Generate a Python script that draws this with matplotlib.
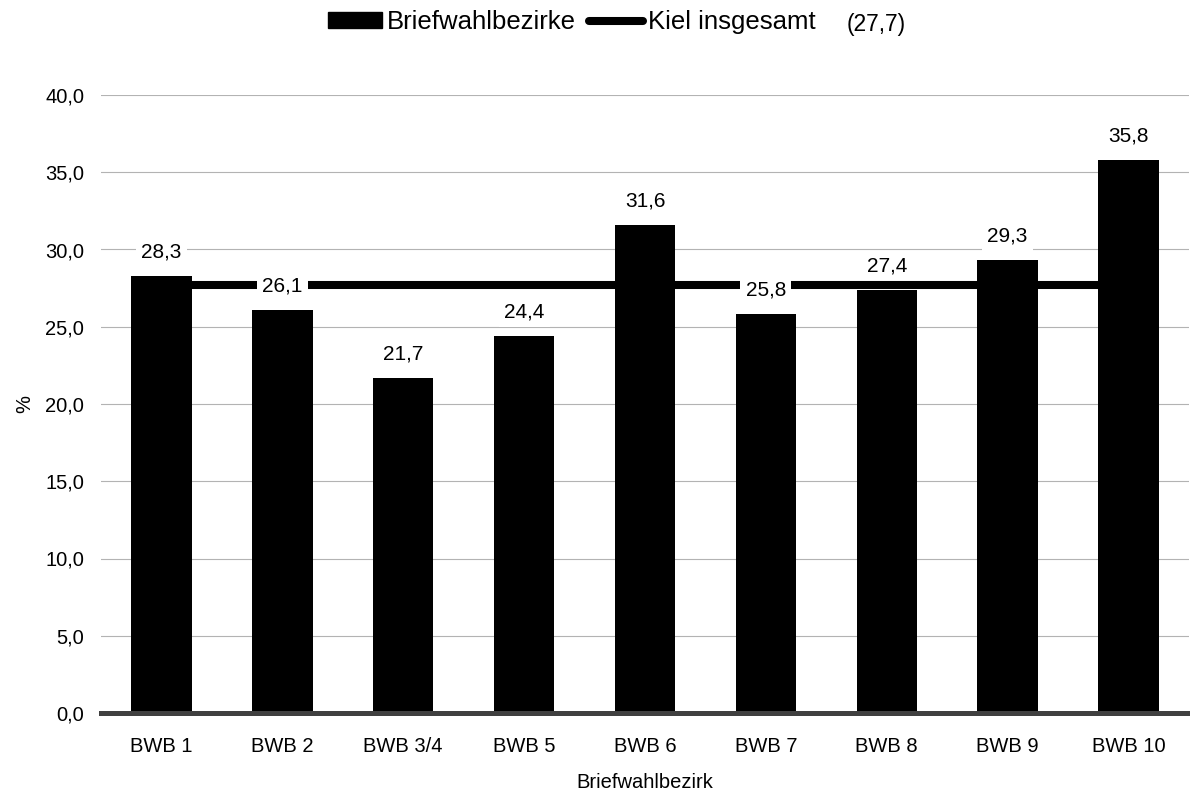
import numpy as np
from matplotlib import pyplot as plt
from matplotlib.patches import Patch
from matplotlib.lines import Line2D

plt.rcParams['font.family'] = ['Liberation Sans', 'DejaVu Sans']

bezirke = ['BWB 1', 'BWB 2', 'BWB 3/4', 'BWB 5', 'BWB 6', 'BWB 7', 'BWB 8', 'BWB 9', 'BWB 10']
werte = [28.3, 26.1, 21.7, 24.4, 31.6, 25.8, 27.4, 29.3, 35.8]
kiel_gesamt = 27.7
y_ticks = [0, 5, 10, 15, 20, 25, 30, 35, 40]

fig = plt.figure(figsize=(11.9, 7.94), dpi=100)
# Achsenbereich in Pixeln: links 101, rechts 1189, unten 713, oben 95
ax = fig.add_axes([101/1190, 81/794, 1088/1190, 618/794])

x = np.arange(len(bezirke))
ax.set_xlim(-0.5, len(bezirke) - 0.5)
ax.set_ylim(0, 40)

# Linie "Kiel insgesamt" liegt hinter den Balken
ax.plot([x[0], x[-1]], [kiel_gesamt, kiel_gesamt], color='black', lw=5.8, zorder=2,
        solid_capstyle='butt')
ax.bar(x, werte, width=0.5, color='black', zorder=3)

for xi, v in zip(x, werte):
    ax.text(xi, v + 1.55, f'{v:.1f}'.replace('.', ','), ha='center', va='center', fontsize=15,
            zorder=5, bbox=dict(boxstyle='square,pad=0.25', facecolor='white', edgecolor='none'))

ax.set_yticks(y_ticks)
ax.set_yticklabels([f'{t:.1f}'.replace('.', ',') for t in y_ticks], fontsize=14.5)
ax.set_xticks(x)
ax.set_xticklabels(bezirke, fontsize=14.5)
ax.tick_params(axis='y', length=0, pad=12)
ax.tick_params(axis='x', length=0, pad=17)
ax.grid(axis='y', color='#b3b3b3', lw=0.8, zorder=0)
ax.set_axisbelow(True)
for s in ['top', 'right', 'left']:
    ax.spines[s].set_visible(False)
ax.spines['bottom'].set_color('#404040')
ax.spines['bottom'].set_linewidth(3.6)
ax.spines['bottom'].set_zorder(4)

ax.set_ylabel('%', fontsize=14.5)
ax.yaxis.set_label_coords(-0.061, 0.5)
ax.set_xlabel('Briefwahlbezirk', fontsize=14.5)
ax.xaxis.set_label_coords(0.5, -0.097)

handles = [Patch(facecolor='black', edgecolor='black'),
           Line2D([0], [0], color='black', lw=5.8, solid_capstyle='round')]
fig.legend(handles, ['Briefwahlbezirke', 'Kiel insgesamt'], loc='center',
           bbox_to_anchor=(0.4805, 0.972), ncol=2, frameon=False, fontsize=18.5,
           handlelength=2.1, handleheight=0.6, handletextpad=0.2, columnspacing=0.5)
fig.text(847/1190, 1 - 31/794, '(27,7)', fontsize=16.5, ha='left', va='baseline')

plt.savefig('out.png', dpi=100)
